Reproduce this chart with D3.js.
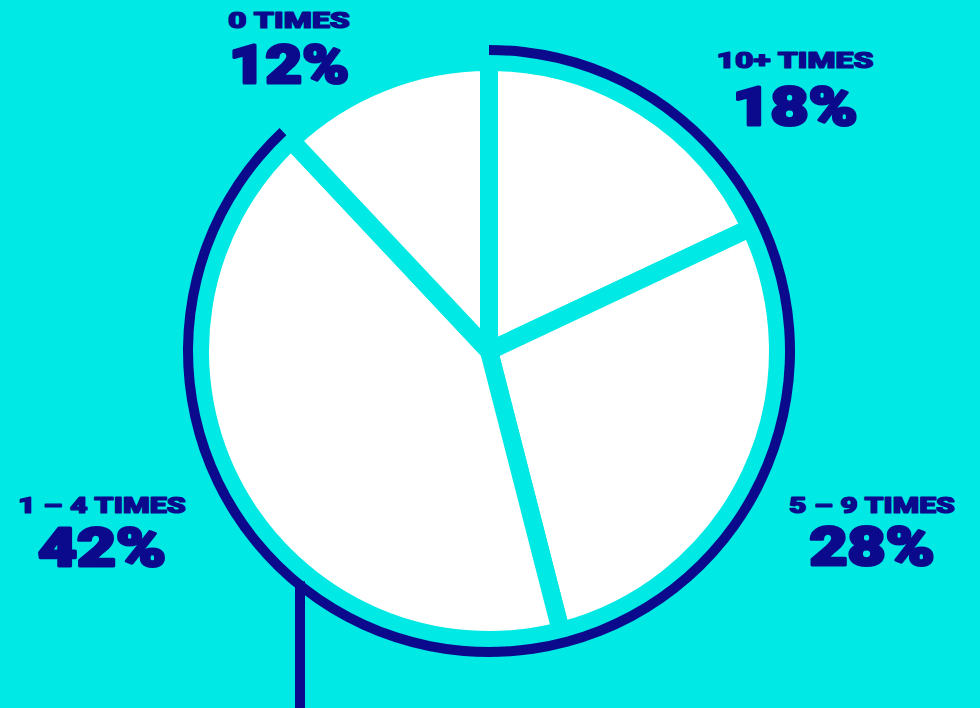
<!DOCTYPE html>
<html>
<head>
<meta charset="utf-8">
<script src="https://cdn.jsdelivr.net/npm/d3@7"></script>
<style>
html,body{margin:0;padding:0;background:#00e9e4;}
svg{display:block;}
</style>
</head>
<body>
<svg id="chart" width="980" height="708"></svg>
<script>
// ---- data ----
const categories = ["10+ TIMES", "5 – 9 TIMES", "1 – 4 TIMES", "0 TIMES"];
const values = [18, 28, 42, 12];
const valueLabels = ["18%", "28%", "42%", "12%"];
const ringCategories = ["10+ TIMES", "5 – 9 TIMES", "1 – 4 TIMES"]; // highlighted by the outer ring

// ---- layout ----
const W = 980, H = 708;
const cx = 489, cy = 351;
const pieR = 289;          // white slice radius (incl. half the gap stroke)
const gap = 18;
const ringR = 301, ringW = 10;
const navy = "#0c0a8c", cyan = "#00e9e4";

// label layout: anchor centre relative to pie centre, label widths
const labelLayout = {
  "0 TIMES":    {dx: -200, top: 28,  bottom: 83,  w1: 122, w2: 120},
  "10+ TIMES":  {dx: 306,  top: 68,  bottom: 125, w1: 157, w2: 125},
  "1 – 4 TIMES":{dx: -387, top: 513, bottom: 566, w1: 168, w2: 128},
  "5 – 9 TIMES":{dx: 383,  top: 513, bottom: 565, w1: 166, w2: 125}
};

const svg = d3.select("#chart");
svg.append("rect").attr("width", W).attr("height", H).attr("fill", cyan);

const g = svg.append("g").attr("transform", `translate(${cx},${cy})`);

const pie = d3.pie().sort(null).value(d => d.v).startAngle(0).endAngle(2 * Math.PI);
const arcs = pie(categories.map((c, i) => ({c, v: values[i]})));
const arc = d3.arc().innerRadius(0).outerRadius(pieR);

g.selectAll("path.slice").data(arcs).join("path")
  .attr("class", "slice")
  .attr("d", arc)
  .attr("fill", "#ffffff")
  .attr("stroke", cyan)
  .attr("stroke-width", gap)
  .attr("stroke-linejoin", "round");

// outer ring over highlighted categories
const ringArcs = arcs.filter(a => ringCategories.includes(a.data.c));
const ringStart = d3.min(ringArcs, a => a.startAngle);
const ringEnd = d3.max(ringArcs, a => a.endAngle);
const ringArc = d3.arc().innerRadius(ringR - ringW / 2).outerRadius(ringR + ringW / 2);
g.append("path")
  .attr("d", ringArc({startAngle: ringStart, endAngle: ringEnd}))
  .attr("fill", navy);

// vertical connector from ring to bottom
const lx = 300 - cx;
const ly = Math.sqrt(ringR * ringR - lx * lx);
g.append("line")
  .attr("x1", lx).attr("x2", lx)
  .attr("y1", ly - 4).attr("y2", H - cy + 2)
  .attr("stroke", navy).attr("stroke-width", 10);

// labels
const fontFam = "Roboto, 'Liberation Sans', sans-serif";
categories.forEach((c, i) => {
  const L = labelLayout[c];
  const x = cx + L.dx;
  svg.append("text")
    .attr("x", x).attr("y", L.top)
    .attr("text-anchor", "middle")
    .attr("font-family", fontFam).attr("font-weight", 900)
    .attr("font-size", 22)
    .attr("fill", navy)
    .attr("stroke", navy).attr("stroke-width", 1.2).attr("stroke-linejoin", "round")
    .attr("textLength", L.w1).attr("lengthAdjust", "spacingAndGlyphs")
    .text(c);
  svg.append("text")
    .attr("x", x).attr("y", L.bottom)
    .attr("text-anchor", "middle")
    .attr("font-family", fontFam).attr("font-weight", 900)
    .attr("font-size", 53)
    .attr("fill", navy)
    .attr("stroke", navy).attr("stroke-width", 3).attr("stroke-linejoin", "round")
    .attr("textLength", L.w2).attr("lengthAdjust", "spacingAndGlyphs")
    .text(valueLabels[i]);
});
</script>
</body>
</html>
